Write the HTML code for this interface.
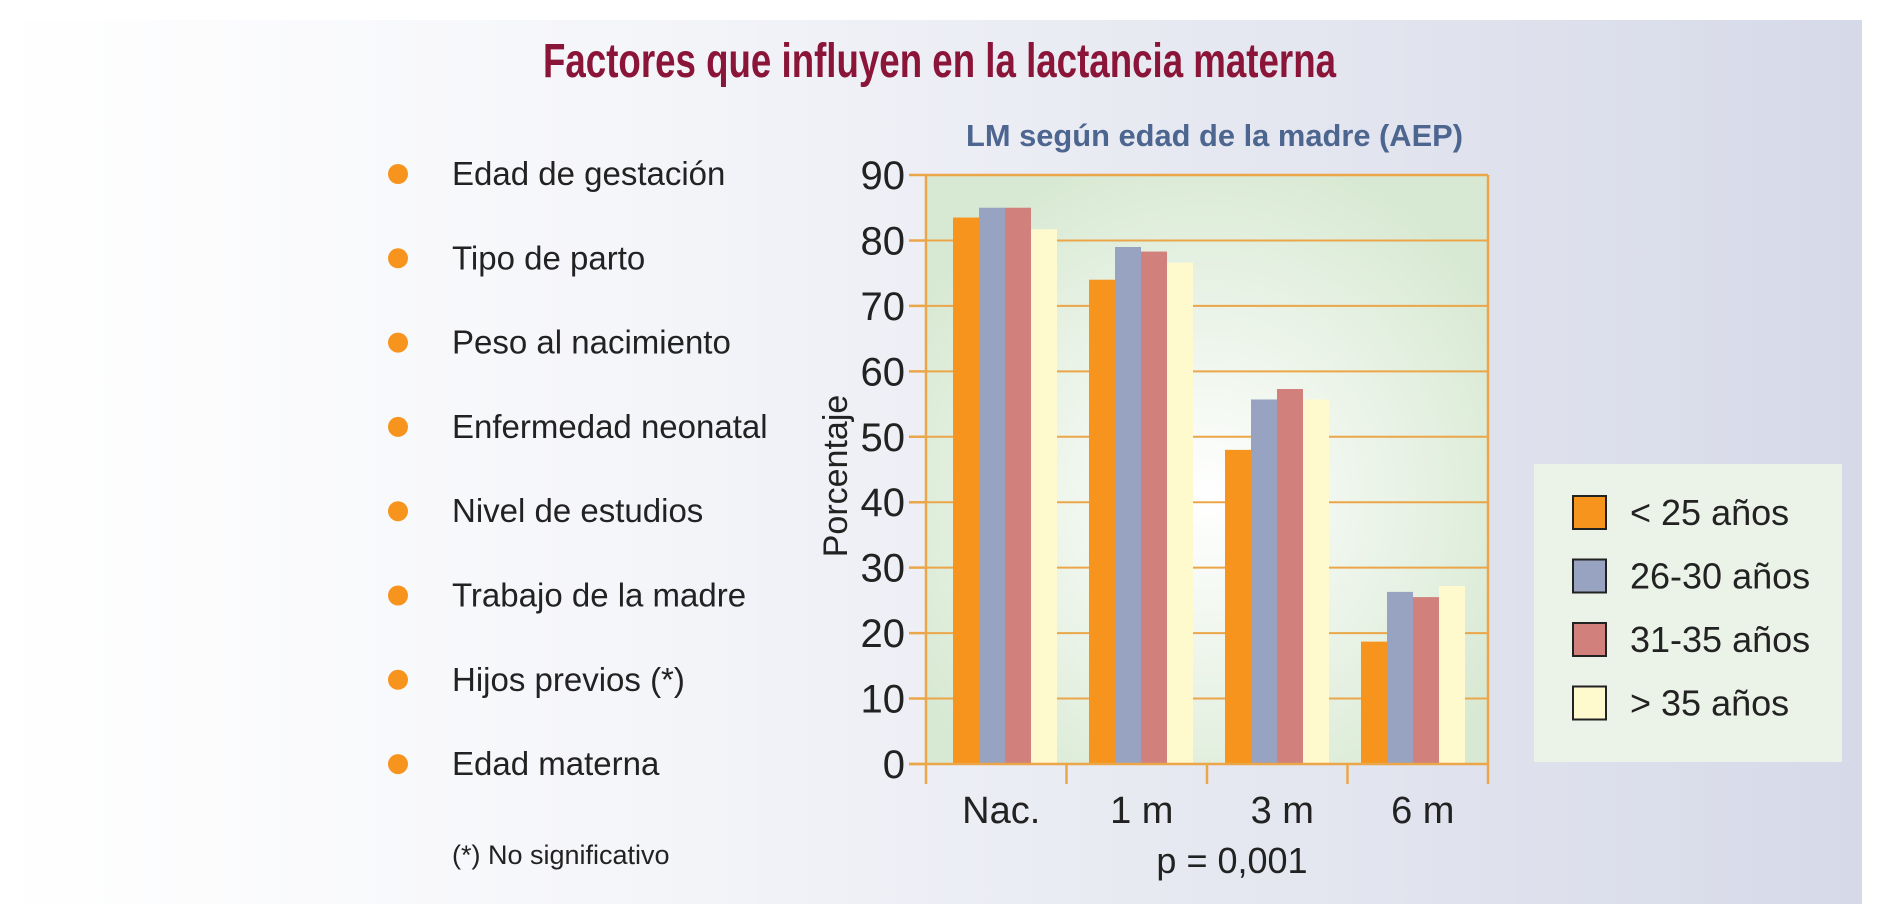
<!DOCTYPE html>
<html><head><meta charset="utf-8"><style>
html,body{margin:0;padding:0;background:#fff;}
svg{display:block;font-family:"Liberation Sans",sans-serif;}
</style></head><body>
<svg id="chart" width="1883" height="908" viewBox="0 0 1883 908">
<defs>
<linearGradient id="bg" x1="0" y1="0" x2="1" y2="0">
<stop offset="0" stop-color="#ffffff"/><stop offset="0.35" stop-color="#f4f5f9"/><stop offset="1" stop-color="#d6d9e8"/>
</linearGradient>
<radialGradient id="plotbg" cx="0.5" cy="0.55" r="0.6">
<stop offset="0" stop-color="#ffffff"/><stop offset="1" stop-color="#d8e9d3"/>
</radialGradient>
</defs>
<rect x="0" y="20" width="1862" height="884" fill="url(#bg)"/>
<text x="543" y="77" textLength="793" lengthAdjust="spacingAndGlyphs" font-size="48" font-weight="bold" fill="#8b1538" font-family="'Liberation Sans Narrow','Liberation Sans',sans-serif">Factores que influyen en la lactancia materna</text>
<text x="966" y="146" textLength="497" lengthAdjust="spacingAndGlyphs" font-size="31" font-weight="bold" fill="#4d6690" font-family="'Liberation Sans Narrow','Liberation Sans',sans-serif">LM según edad de la madre (AEP)</text>
<g id="factors"></g>
<text x="452" y="864" font-size="27" fill="#222">(*) No significativo</text>
<rect x="926" y="175" width="562" height="589" fill="url(#plotbg)"/>
<g id="grid"></g>
<g id="bars"></g>
<g id="axes"></g>
<text transform="translate(847,476) rotate(-90)" text-anchor="middle" font-size="34" fill="#222">Porcentaje</text>
<text x="1232" y="873" text-anchor="middle" font-size="36" fill="#222" font-family="'Liberation Sans Narrow','Liberation Sans',sans-serif">p = 0,001</text>
<rect x="1534" y="464" width="308" height="298" fill="#ebf3e8"/>
<g id="legend"></g>
</svg>
<script>
const factors = ["Edad de gestación","Tipo de parto","Peso al nacimiento","Enfermedad neonatal","Nivel de estudios","Trabajo de la madre","Hijos previos (*)","Edad materna"];
const categories = ["Nac.","1 m","3 m","6 m"];
const seriesNames = ["< 25 años","26-30 años","31-35 años","> 35 años"];
const under25 = [83.5, 74, 48, 18.7];
const age26to30 = [85, 79, 55.7, 26.3];
const age31to35 = [85, 78.3, 57.3, 25.5];
const over35 = [81.7, 76.6, 55.7, 27.2];
const yTicks = [0,10,20,30,40,50,60,70,80,90];
const colors = ["#f7941d","#97a3c1","#d1807c","#fffacd"];
const series = [under25, age26to30, age31to35, over35];

const NS = "http://www.w3.org/2000/svg";
function mk(tag, attrs, parent, text){const e=document.createElementNS(NS,tag);for(const k in attrs)e.setAttribute(k,attrs[k]);if(text!==undefined)e.textContent=text;parent.appendChild(e);return e;}
const X0=926, X1=1488, Y0=764, Y90=175;
function yScale(v){return Y0-(v/90)*(Y0-Y90);}
function groupX(i){return 953+i*136;}
const BW=26;
const narrow="'Liberation Sans Narrow','Liberation Sans',sans-serif";

const fg=document.getElementById('factors');
factors.forEach((f,i)=>{
  const y=174+i*84.3;
  const c=mk('circle',{cx:398,cy:y,r:10,fill:'#f7941d'},fg);
  
  
  const t=mk('text',{x:452,y:y+11,'font-size':33,fill:'#222'},fg,f);
  
  
});

const gg=document.getElementById('grid');
yTicks.forEach(v=>{
  if(v>0&&v<90){
    const l=mk('line',{x1:X0,x2:X1,y1:yScale(v),y2:yScale(v),stroke:'#eba64a','stroke-width':2},gg);
    
    
  }
});

const bg=document.getElementById('bars');
series.forEach((s,si)=>{
  s.forEach((v,ci)=>{
    const r=mk('rect',{x:groupX(ci)+si*BW,y:yScale(v),width:BW,height:Y0-yScale(v),fill:colors[si]},bg);
    
    
  });
});

const ag=document.getElementById('axes');
const st={stroke:'#eba64a','stroke-width':2.5};
mk('line',Object.assign({x1:X0,x2:X1,y1:Y90,y2:Y90},st),ag);
mk('line',Object.assign({x1:X0,x2:X0,y1:Y90,y2:Y0+20},st),ag);
mk('line',Object.assign({x1:X1,x2:X1,y1:Y90,y2:Y0+20},st),ag);
mk('line',Object.assign({x1:X0-17,x2:X1,y1:Y0,y2:Y0},st),ag);
yTicks.forEach(v=>{
  mk('line',Object.assign({x1:X0-17,x2:X0,y1:yScale(v),y2:yScale(v)},st),ag);
  const t=mk('text',{x:905,y:yScale(v)+14,'text-anchor':'end','font-size':40,fill:'#222','font-family':narrow},ag,String(v));
  
  
});
const band=(X1-X0)/categories.length;
categories.forEach((c,i)=>{
  if(i>0) mk('line',Object.assign({x1:X0+i*band,x2:X0+i*band,y1:Y0,y2:Y0+20},st),ag);
  const t=mk('text',{x:X0+band*(i+0.5)+5,y:823,'text-anchor':'middle','font-size':38,fill:'#222','font-family':narrow},ag,c);
  
  
});

const lg=document.getElementById('legend');
seriesNames.forEach((n,i)=>{
  const y=512+i*63.5;
  const r=mk('rect',{x:1573,y:y-16,width:33,height:33,fill:colors[i],stroke:'#222','stroke-width':2},lg);
  
  
  const t=mk('text',{x:1630,y:y+13,'font-size':36,fill:'#222','font-family':narrow},lg,n);
  
  
});
</script>
</body></html>
